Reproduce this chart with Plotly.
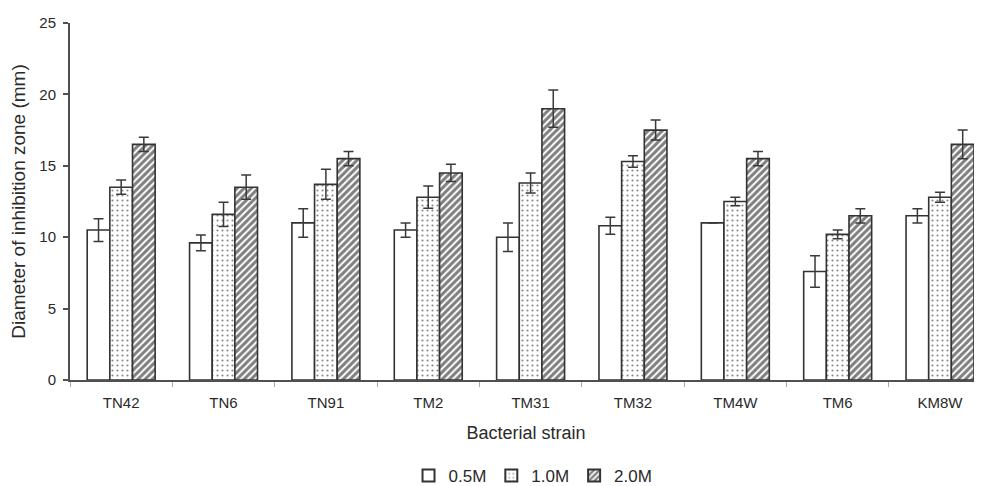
import plotly.graph_objects as go

strains = ["TN42", "TN6", "TN91", "TM2", "TM31", "TM32", "TM4W", "TM6", "KM8W"]
series_names = ["0.5M", "1.0M", "2.0M"]

vals_05 = [10.5, 9.6, 11.0, 10.5, 10.0, 10.8, 11.0, 7.6, 11.5]
err_05 = [0.8, 0.55, 1.0, 0.5, 1.0, 0.6, 0.0, 1.1, 0.5]
vals_10 = [13.5, 11.6, 13.7, 12.8, 13.8, 15.3, 12.5, 10.2, 12.8]
err_10 = [0.5, 0.85, 1.05, 0.78, 0.7, 0.4, 0.3, 0.3, 0.35]
vals_20 = [16.5, 13.5, 15.5, 14.5, 19.0, 17.5, 15.5, 11.5, 16.5]
err_20 = [0.5, 0.85, 0.5, 0.6, 1.3, 0.7, 0.5, 0.5, 1.0]

y_ticks = [0, 5, 10, 15, 20, 25]

edge = "#333333"
patterns = [
    dict(shape="", bgcolor="white"),
    dict(shape=".", bgcolor="white", fgcolor="#111111", size=5, solidity=0.15),
    dict(shape="/", bgcolor="white", fgcolor="#000000", size=5, solidity=0.6),
]

fig = go.Figure()
for name, v, e, pat in zip(series_names, [vals_05, vals_10, vals_20],
                           [err_05, err_10, err_20], patterns):
    fig.add_trace(go.Bar(
        x=strains, y=v, name=name,
        marker=dict(color="white", line=dict(color=edge, width=1.6), pattern=pat),
        error_y=dict(type="data", array=e, visible=True, color="#3a3a3a",
                     thickness=1.5, width=5),
    ))

# page has an 8px body margin: figure is 974x478 so it fills the 982x486 window
fig.update_layout(
    width=974, height=478,
    barmode="group", bargap=0.336, bargroupgap=0,
    plot_bgcolor="white", paper_bgcolor="white",
    margin=dict(l=62, r=0, t=15, b=106, autoexpand=False),
    font=dict(family="Liberation Sans, Arial, sans-serif", size=15, color="#2a2a2a"),
    showlegend=True,
    legend=dict(orientation="h", x=0.5077, xanchor="center", y=-0.269, yanchor="middle",
                font=dict(size=17), itemwidth=30, tracegroupgap=0,
                itemsizing="constant"),
    xaxis=dict(
        range=[-0.5, 8.41], showline=True, linecolor="#505050", linewidth=2,
        ticks="outside", tickson="boundaries", ticklen=5, tickcolor="#aaaaaa",
        tickwidth=1, showgrid=False, zeroline=False, automargin=False,
        ticklabelstandoff=8,
        title=dict(text="Bacterial strain", font=dict(size=18), standoff=16),
        tickfont=dict(size=15),
    ),
    yaxis=dict(
        range=[0, 25], tickvals=y_ticks, showline=True, linecolor="#505050",
        linewidth=2, ticks="outside", ticklen=5, tickcolor="#505050", tickwidth=1.5,
        showgrid=False, zeroline=False, automargin=False, ticklabelstandoff=4,
        title=dict(text="Diameter of inhibition zone (mm)", font=dict(size=19), standoff=12),
        tickfont=dict(size=15),
    ),
)

fig.write_html("out.html")
